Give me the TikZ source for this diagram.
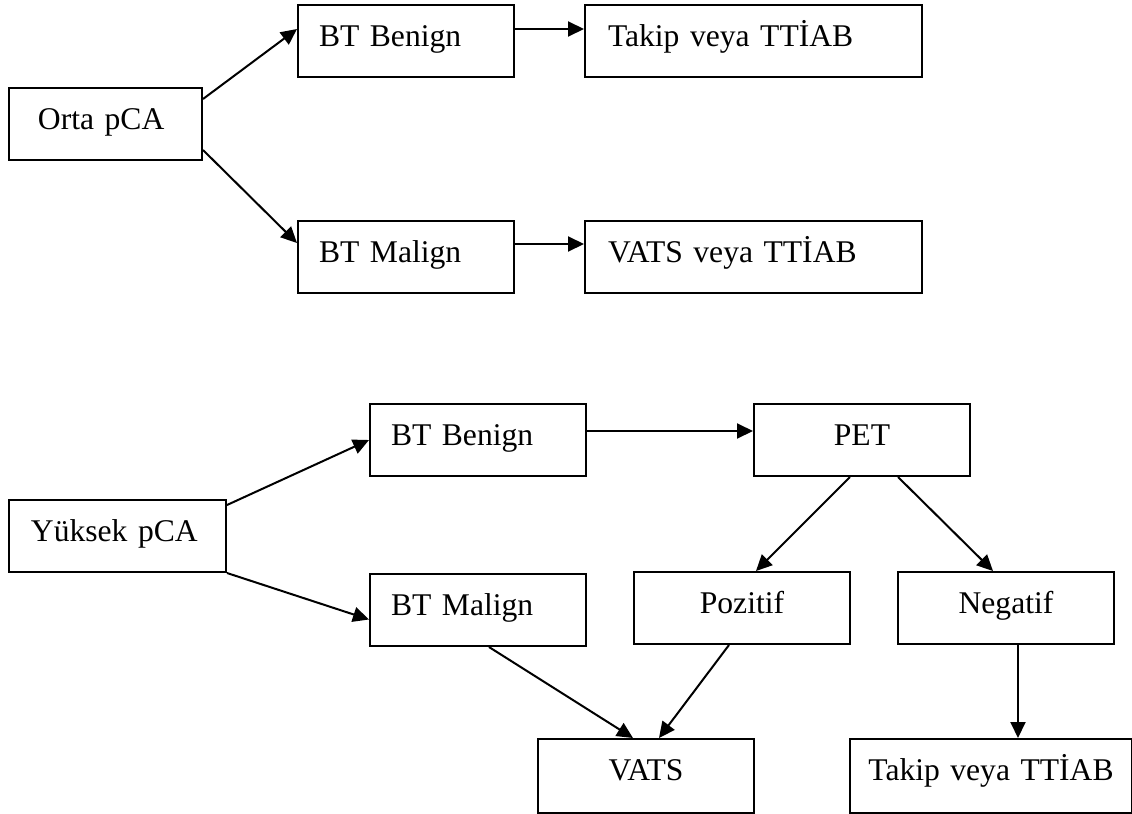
\documentclass[tikz,border=0pt]{standalone}
\usepackage{fontspec}
\setmainfont{Liberation Serif}
\usetikzlibrary{arrows.meta}
\newcommand{\fs}{\fontsize{15.8}{19}\selectfont}
\tikzset{
  bx/.style={draw, line width=1pt, rectangle, anchor=north west, inner ysep=2pt,
    text height=18.5pt, text depth=13.5pt, font=\fs},
  arr/.style={line width=1pt, -{Triangle[length=8pt,width=7.5pt]}},
  ln/.style={line width=1pt}
}
\begin{document}
\begin{tikzpicture}[x=0.5pt,y=-0.5pt]
\useasboundingbox (0,0) rectangle (1132,814);
% top diagram
\node[bx, align=left, inner xsep=14.5pt, text width=67.5pt] (orta) at (8,87) {Orta pCA};
\node[bx, align=left, inner xsep=10.5pt, text width=87pt] (ben1) at (297,4) {BT Benign};
\node[bx, align=left, inner xsep=11.5pt, text width=145.5pt] (tak1) at (584,4) {Takip veya TTİAB};
\node[bx, align=left, inner xsep=10.5pt, text width=87pt] (mal1) at (297,220) {BT Malign};
\node[bx, align=left, inner xsep=11.5pt, text width=145.5pt] (vats1) at (584,220) {VATS veya TTİAB};
% bottom diagram
\node[bx, align=left, inner xsep=11pt, text width=86.5pt] (yuk) at (8,499) {Yüksek pCA};
\node[bx, align=left, inner xsep=10.5pt, text width=87pt] (ben2) at (369,403) {BT Benign};
\node[bx, align=center, inner xsep=2pt, text width=104pt] (pet) at (753,403) {PET};
\node[bx, align=left, inner xsep=10.5pt, text width=87pt] (mal2) at (369,573) {BT Malign};
\node[bx, align=center, inner xsep=2pt, text width=104pt] (poz) at (633,571) {Pozitif};
\node[bx, align=center, inner xsep=2pt, text width=104pt] (neg) at (897,571) {Negatif};
\node[bx, align=center, inner xsep=2pt, text width=104pt, text depth=14.5pt] (vats2) at (537,738) {VATS};
\node[bx, align=center, inner xsep=2pt, text width=137pt, text depth=14.5pt] (tak2) at (849,738) {Takip veya TTİAB};
% connectors top
\draw[arr] ([yshift=-6pt]orta.north east) -- ([yshift=-12.5pt]ben1.north west);
\draw[arr] ([yshift=5.5pt]orta.south east) -- ([yshift=7pt]mal1.west);
\draw[arr] ([yshift=6pt]ben1.east) -- ([yshift=6pt]tak1.west);
\draw[arr] ([yshift=6.5pt]mal1.east) -- ([yshift=6.5pt]vats1.west);
% connectors bottom
\draw[arr] ([yshift=-3pt]yuk.north east) -- (ben2.west);
\draw[arr] (yuk.south east) -- ([yshift=-4.75pt]mal2.west);
\draw[arr] ([yshift=4.5pt]ben2.east) -- ([yshift=4.5pt]pet.west);
\draw[arr] ([xshift=-6pt]pet.south) -- ([xshift=7pt]poz.north);
\draw[arr] ([xshift=18pt]pet.south) -- ([xshift=-6.5pt]neg.north);
\draw[arr] ([xshift=5.5pt]mal2.south) -- ([xshift=-6.5pt]vats2.north);
\draw[arr] ([xshift=-6.5pt]poz.south) -- ([xshift=6.5pt]vats2.north);
\draw[arr] ([xshift=6pt]neg.south) -- ([xshift=6pt]neg.south |- tak2.north);
\end{tikzpicture}
\end{document}
